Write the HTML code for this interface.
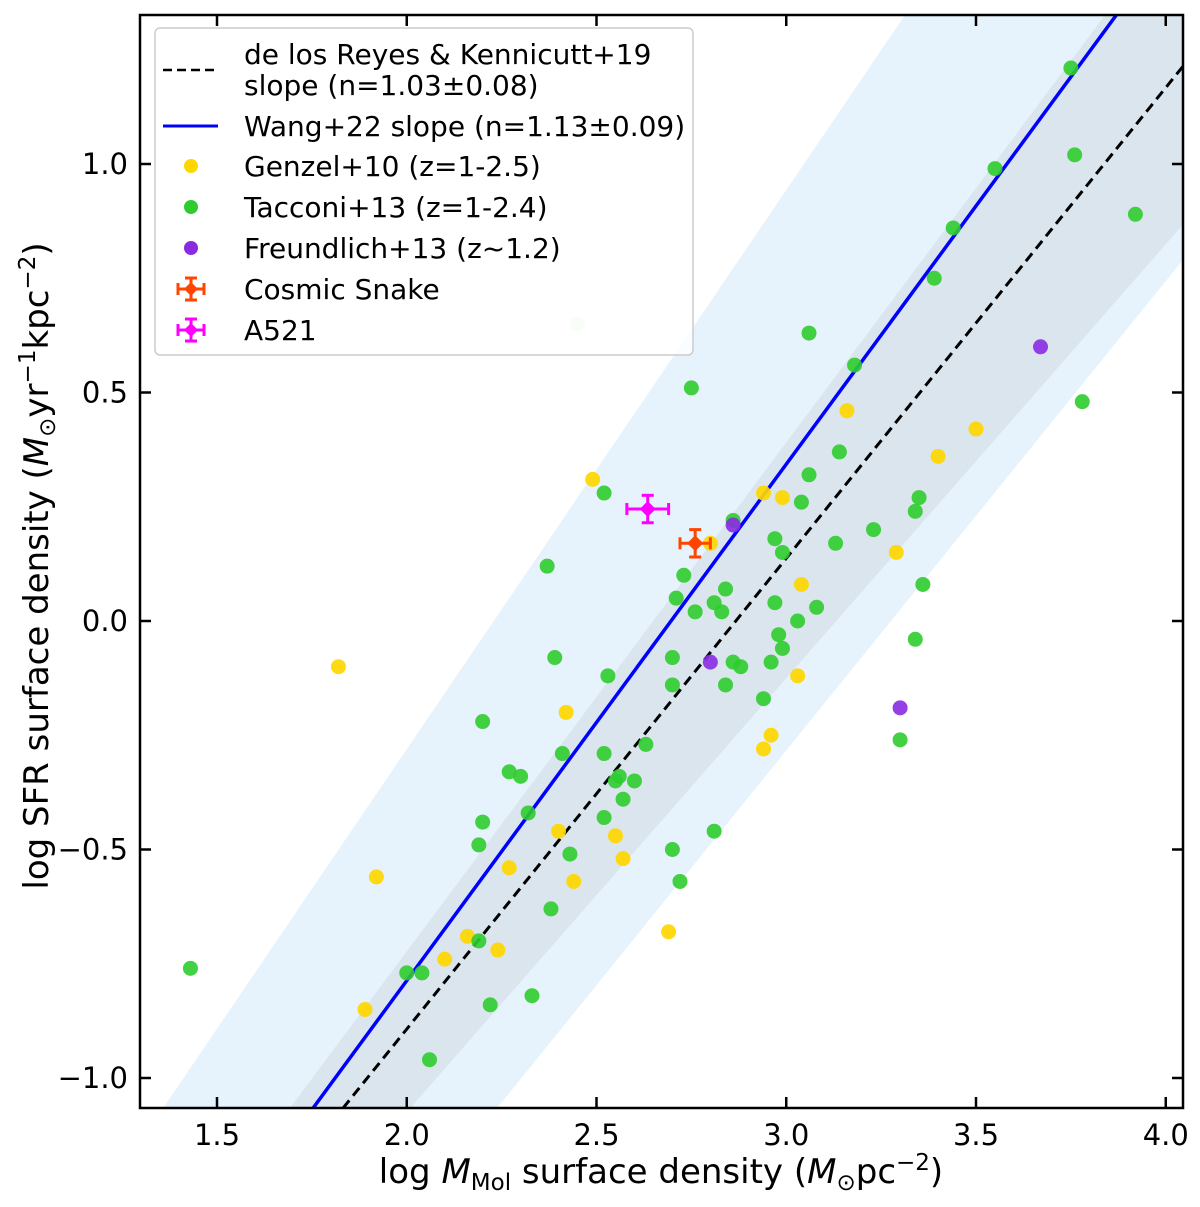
<!DOCTYPE html>
<html><head><meta charset="utf-8"><style>
body{margin:0;background:#fff;}
svg text{font-family:"DejaVu Sans","Liberation Sans",sans-serif;fill:#000;}
</style></head><body>
<svg id="chart" width="1200" height="1202" viewBox="0 0 1200 1202" xmlns="http://www.w3.org/2000/svg">
<defs><clipPath id="clip"><rect x="140" y="15" width="1043" height="1093"/></clipPath></defs>
<g id="bands" clip-path="url(#clip)"></g>
<g id="lines" clip-path="url(#clip)"></g>
<g id="points" clip-path="url(#clip)"></g>
<rect x="140" y="15" width="1043" height="1093" fill="none" stroke="#000" stroke-width="2.5"/>
<g id="ticks"></g>
<text x="661" y="1183" font-size="34" text-anchor="middle">log <tspan font-style="italic">M</tspan><tspan font-size="23" dy="7">Mol</tspan><tspan dy="-7"> surface density (</tspan><tspan font-style="italic">M</tspan><tspan font-size="23" dy="7">⊙</tspan><tspan dy="-7">pc</tspan><tspan font-size="23" dy="-13">−2</tspan><tspan dy="13">)</tspan></text>
<text transform="translate(48,566) rotate(-90)" font-size="34" text-anchor="middle">log SFR surface density (<tspan font-style="italic">M</tspan><tspan font-size="23" dy="7">⊙</tspan><tspan dy="-7">yr</tspan><tspan font-size="23" dy="-13">−1</tspan><tspan dy="13">kpc</tspan><tspan font-size="23" dy="-13">−2</tspan><tspan dy="13">)</tspan></text>
<g id="legend">
<rect x="155" y="28" width="538" height="327" rx="5" fill="#fff" fill-opacity="0.8" stroke="#ccc" stroke-width="1.5"/>
<line x1="163" y1="70" x2="218" y2="70" stroke="#000" stroke-width="2.5" stroke-dasharray="9,5"/>
<text x="244" y="64" font-size="28">de los Reyes &amp; Kennicutt+19</text>
<text x="244" y="95" font-size="28">slope (n=1.03±0.08)</text>
<line x1="163" y1="126" x2="218" y2="126" stroke="#0000ff" stroke-width="3"/>
<text x="244" y="136" font-size="28">Wang+22 slope (n=1.13±0.09)</text>
<circle cx="191" cy="166" r="7" fill="#ffd700"/>
<text x="244" y="176" font-size="28">Genzel+10 (z=1-2.5)</text>
<circle cx="191" cy="207" r="7" fill="#2ecc2e"/>
<text x="244" y="217" font-size="28">Tacconi+13 (z=1-2.4)</text>
<circle cx="191" cy="248" r="7" fill="#8a2be2"/>
<text x="244" y="258" font-size="28">Freundlich+13 (z~1.2)</text>
<g stroke="#ff4500" stroke-width="3"><line x1="178" y1="289" x2="204" y2="289"/><line x1="191" y1="278" x2="191" y2="300"/><line x1="178" y1="283" x2="178" y2="295"/><line x1="204" y1="283" x2="204" y2="295"/><line x1="185" y1="278" x2="197" y2="278"/><line x1="185" y1="300" x2="197" y2="300"/></g>
<path d="M191 282 L198 289 L191 296 L184 289 Z" fill="#ff4500"/>
<text x="244" y="299" font-size="28">Cosmic Snake</text>
<g stroke="#ff00ff" stroke-width="3"><line x1="178" y1="330" x2="204" y2="330"/><line x1="191" y1="319" x2="191" y2="341"/><line x1="178" y1="324" x2="178" y2="336"/><line x1="204" y1="324" x2="204" y2="336"/><line x1="185" y1="319" x2="197" y2="319"/><line x1="185" y1="341" x2="197" y2="341"/></g>
<path d="M191 323 L198 330 L191 337 L184 330 Z" fill="#ff00ff"/>
<text x="244" y="340" font-size="28">A521</text>
</g>
<script>
// ---- data ----
const xTicks = [1.5, 2.0, 2.5, 3.0, 3.5, 4.0];
const xTickLabels = ["1.5","2.0","2.5","3.0","3.5","4.0"];
const yTicks = [-1.0, -0.5, 0.0, 0.5, 1.0];
const yTickLabels = ["−1.0","−0.5","0.0","0.5","1.0"];
const genzelX = [1.82,1.89,1.92,2.10,2.16,2.24,2.27,2.40,2.42,2.44,2.49,2.55,2.57,2.69,2.80,2.94,2.94,2.96,2.99,3.03,3.04,3.16,3.29,3.40,3.50];
const genzelY = [-0.10,-0.85,-0.56,-0.74,-0.69,-0.72,-0.54,-0.46,-0.20,-0.57,0.31,-0.47,-0.52,-0.68,0.17,0.28,-0.28,-0.25,0.27,-0.12,0.08,0.46,0.15,0.36,0.42];
const tacconiX = [1.43,2.00,2.04,2.06,2.19,2.19,2.20,2.20,2.22,2.27,2.30,2.32,2.33,2.37,2.38,2.39,2.41,2.43,2.52,2.52,2.52,2.53,2.55,2.56,2.57,2.60,2.63,2.70,2.70,2.70,2.71,2.72,2.73,2.75,2.76,2.81,2.81,2.83,2.84,2.84,2.86,2.86,2.88,2.94,2.96,2.97,2.97,2.98,2.99,2.99,3.03,3.04,3.06,3.06,3.08,3.13,3.14,3.18,3.23,3.30,3.34,3.34,3.35,3.36,3.39,3.44,3.55,3.75,3.76,3.78,3.92];
const tacconiY = [-0.76,-0.77,-0.77,-0.96,-0.70,-0.49,-0.44,-0.22,-0.84,-0.33,-0.34,-0.42,-0.82,0.12,-0.63,-0.08,-0.29,-0.51,0.28,-0.29,-0.43,-0.12,-0.35,-0.34,-0.39,-0.35,-0.27,-0.08,-0.14,-0.50,0.05,-0.57,0.10,0.51,0.02,-0.46,0.04,0.02,0.07,-0.14,0.22,-0.09,-0.10,-0.17,-0.09,0.04,0.18,-0.03,0.15,-0.06,0.00,0.26,0.32,0.63,0.03,0.17,0.37,0.56,0.20,-0.26,0.24,-0.04,0.27,0.08,0.75,0.86,0.99,1.21,1.02,0.48,0.89];
const freundX = [2.80,2.86,3.30,3.67];
const freundY = [-0.09,0.21,-0.19,0.60];
const hiddenX = [2.45];
const hiddenY = [0.65];
const snake = {x:2.76, y:0.17, xe:0.04, ye:0.03};
const a521 = {x:2.635, y:0.245, xe:0.055, ye:0.03};
const wangSlope = 1.13, wangX0 = 1.753;
const reyesSlope = 1.03, reyesX0 = 1.832;
const lightBand = [[1.358,-1.066,3.313,1.326],[4.045,0.790,2.238,-1.066]];
const darkBand = [[1.692,-1.066,3.840,1.326],[4.045,0.867,2.009,-1.066]];

// ---- axes ----
const X = v => 217 + (v - 1.5) * 379.5;
const Y = v => 621 - v * 457;
const NS = "http://www.w3.org/2000/svg";
function mk(tag, attrs, parent){const e=document.createElementNS(NS,tag);for(const k in attrs)e.setAttribute(k,attrs[k]);parent.appendChild(e);return e;}
const bands=document.getElementById('bands'), lines=document.getElementById('lines'), pts=document.getElementById('points'), ticks=document.getElementById('ticks');

function band(b, fill, name){
  const p=[[b[0][0],b[0][1]],[b[0][2],b[0][3]],[b[1][0],b[1][1]],[b[1][2],b[1][3]]];
  const all=[p[0],p[1],[4.045,1.326],p[2],p[3]];
  const el=mk('polygon',{points:all.map(q=>X(q[0])+','+Y(q[1])).join(' '),fill:fill},bands);
  
  
}
band(lightBand,'#e6f3fc','light-scatter-band');
band(darkBand,'#dae5ee','dark-scatter-band');

const y0=-1.066, y1=1.4;
let l=mk('line',{x1:X(reyesX0),y1:Y(y0),x2:X(reyesX0+(y1-y0)/reyesSlope),y2:Y(y1),stroke:'#000','stroke-width':3,'stroke-dasharray':'10,6'},lines);


l=mk('line',{x1:X(wangX0),y1:Y(y0),x2:X(wangX0+(y1-y0)/wangSlope),y2:Y(y1),stroke:'#0000ff','stroke-width':3.5},lines);



function scatter(xs,ys,fill,op,name){
  xs.forEach((x,i)=>{
    const c=mk('circle',{cx:X(x),cy:Y(ys[i]),r:7.5,fill:fill,'fill-opacity':op},pts);
    
    
  });
}
scatter(genzelX,genzelY,'#ffd700',0.92,'genzel-point');
scatter(tacconiX,tacconiY,'#2ecc2e',0.9,'tacconi-point');
scatter(freundX,freundY,'#8a2be2',0.9,'freundlich-point');
scatter(hiddenX,hiddenY,'#2ecc2e',0.18,'tacconi-point-faded');

function errpt(d,col,name){
  const g=mk('g',{stroke:col,'stroke-width':3},pts);
  
  
  const cx=X(d.x), cy=Y(d.y), xl=X(d.x-d.xe), xr=X(d.x+d.xe), yt=Y(d.y+d.ye), yb=Y(d.y-d.ye);
  mk('line',{x1:xl,y1:cy,x2:xr,y2:cy},g);
  mk('line',{x1:cx,y1:yt,x2:cx,y2:yb},g);
  mk('line',{x1:xl,y1:cy-6,x2:xl,y2:cy+6},g);
  mk('line',{x1:xr,y1:cy-6,x2:xr,y2:cy+6},g);
  mk('line',{x1:cx-6,y1:yt,x2:cx+6,y2:yt},g);
  mk('line',{x1:cx-6,y1:yb,x2:cx+6,y2:yb},g);
  mk('path',{d:`M${cx} ${cy-8} L${cx+8} ${cy} L${cx} ${cy+8} L${cx-8} ${cy} Z`,fill:col,stroke:'none'},g);
}
errpt(a521,'#ff00ff','a521-point');
errpt(snake,'#ff4500','cosmic-snake-point');

xTicks.forEach((v,i)=>{
  const x=X(v);
  mk('line',{x1:x,y1:1108,x2:x,y2:1097,stroke:'#000','stroke-width':2.5},ticks);
  mk('line',{x1:x,y1:15,x2:x,y2:26,stroke:'#000','stroke-width':2.5},ticks);
  const t=mk('text',{x:x,y:1145,'font-size':29,'text-anchor':'middle'},ticks);
  t.textContent=xTickLabels[i];
  
  
});
yTicks.forEach((v,i)=>{
  const y=Y(v);
  mk('line',{x1:140,y1:y,x2:151,y2:y,stroke:'#000','stroke-width':2.5},ticks);
  mk('line',{x1:1183,y1:y,x2:1172,y2:y,stroke:'#000','stroke-width':2.5},ticks);
  const t=mk('text',{x:128,y:y+10,'font-size':29,'text-anchor':'end'},ticks);
  t.textContent=yTickLabels[i];
  
  
});
</script>
</svg>
</body></html>
